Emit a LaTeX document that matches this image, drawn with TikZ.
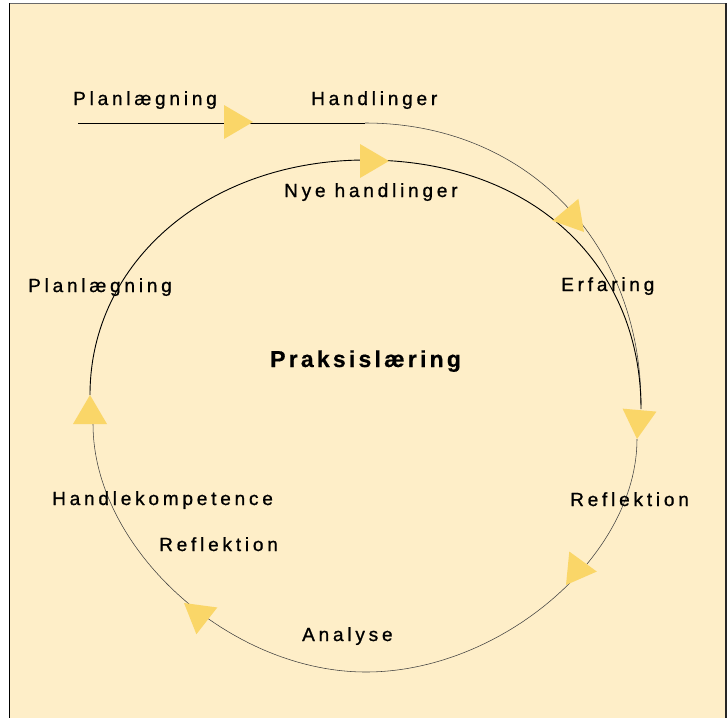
\documentclass[tikz,border=0pt]{standalone}
\usepackage{fontspec}
\setmainfont{Liberation Sans}
\newfontfamily\labelfont[LetterSpace=20, FakeBold=1]{Liberation Sans}
\newfontfamily\titlefont[LetterSpace=14, FakeBold=0.6]{Liberation Sans Bold}
\definecolor{paper}{RGB}{254,238,200}
\definecolor{tri}{RGB}{250,214,104}
\definecolor{rim}{RGB}{105,105,105}
\tikzset{
  lbl/.style={anchor=base west, inner sep=0pt, text=black, font=\labelfont\fontsize{19}{22}\selectfont},
  ttl/.style={anchor=base west, inner sep=0pt, font=\titlefont\fontsize{23}{27}\selectfont},
  heavy/.style={draw=black, line width=0.9pt},
  light/.style={draw=black!75, line width=0.55pt},
  tipfill/.style={fill=tri, draw=none},
}
% yellow triangular arrow head: tip at #1, pointing at angle #2
\newcommand{\headat}[2]{\fill[tipfill, shift={(#1)}, rotate=#2] (0,0) -- (-29,17) -- (-29,-17) -- cycle;}
\begin{document}
\begin{tikzpicture}[x=1pt, y=-1pt]
\useasboundingbox (0,0) rectangle (728,718);
% panel
\fill[white] (0,0) rectangle (728,718);
\fill[paper] (9,3) rectangle (727,718);
\draw[rim, line width=1.6pt] (9,3.5) -- (727,3.5);
\draw[black, line width=1.4pt] (9.5,3) -- (9.5,718);
\draw[black!85, line width=1.4pt] (726,3) -- (726,718);

% key points of the loop
\coordinate (start) at (78,123);
\coordinate (bend) at (365,123);
\coordinate (side) at (641,405);
\coordinate (lefttop) at (90,395);
\coordinate (top) at (366,160);
\coordinate (righttop) at (641,409);
\coordinate (rightlow) at (637,439);
\coordinate (bottom) at (366,672);
\coordinate (leftlow) at (93,424);

% outer path: planning into action
\draw[heavy, line width=0.8pt] (start) -- (bend);
\draw[light] (bend) .. controls (525,123) and (641,241) .. (side);

% upper half of the cycle
\draw[heavy] (lefttop) .. controls (90,261) and (209,160) .. (top)
  .. controls (530,160) and (641,262) .. (righttop);
% lower half of the cycle
\draw[light] (rightlow) .. controls (637,556) and (501,672) .. (bottom)
  .. controls (229,672) and (93,548) .. (leftlow);

% arrow heads
\headat{253,122}{0}
\headat{584,232}{-50}
\headat{389,161}{0}
\headat{637,439}{-95}
\headat{566,585}{-126}
\headat{184,603}{142}
\headat{90,395}{90}

% labels
\node[lbl] (plan1) at (73,105) {Planlægning};
\node[lbl] (hand) at (311,105) {Handlinger};
\node[lbl] (nye) at (284,197) {Nye handlinger};
\node[lbl] (plan2) at (28,292) {Planlægning};
\node[lbl] (erf) at (561,291) {Erfaring};
\node[ttl] (praks) at (270,367) {Praksislæring};
\node[lbl] (komp) at (52,505) {Handlekompetence};
\node[lbl] (refl1) at (159,551) {Reflektion};
\node[lbl] (refl2) at (570,506) {Reflektion};
\node[lbl] (anal) at (302,641) {Analyse};
\end{tikzpicture}
\end{document}
